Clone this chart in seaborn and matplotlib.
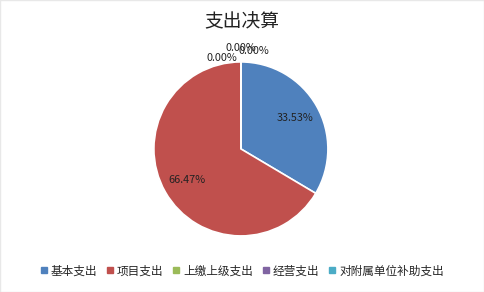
import matplotlib
matplotlib.use("Agg")
import matplotlib.pyplot as plt
import seaborn as sns
from matplotlib.lines import Line2D

sns.set_theme(style="white")
plt.rcParams['font.family'] = ['Noto Sans CJK SC', 'DejaVu Sans']

# data
categories = ["基本支出", "项目支出", "上缴上级支出", "经营支出", "对附属单位补助支出"]
values = [33.53, 66.47, 0.0, 0.0, 0.0]
colors = ["#4F81BD", "#C0504D", "#9BBB59", "#8064A2", "#4BACC6"]

fig = plt.figure(figsize=(4.84, 2.92), dpi=100)
ax = fig.add_axes([0.318, 0.192, 0.3595, 0.596])

wedges, texts, autotexts = ax.pie(
    values, colors=colors, startangle=90, counterclock=False,
    autopct="%.2f%%", pctdistance=0.72,
    wedgeprops=dict(edgecolor="white", linewidth=1.2),
    textprops=dict(fontsize=7.8, color="#222222"),
)
ax.set_aspect("equal")
ax.set_xlim(-1, 1)
ax.set_ylim(-1, 1)

# zero-value labels sit outside the top of the pie, as in the original
zero_pos = [(-0.22, 1.05), (0.0, 1.16), (0.15, 1.13)]
k = 0
for v, t in zip(values, autotexts):
    if v == 0:
        t.set_position(zero_pos[k])
        t.set_clip_on(False)
        k += 1

fig.text(0.5, 0.926, "支出决算", ha="center", va="center", fontsize=13.5, color="#222222")

handles = [Line2D([], [], marker="s", linestyle="", markersize=4.5,
                  markerfacecolor=c, markeredgecolor=c) for c in colors]
fig.legend(handles, categories, loc="center", bbox_to_anchor=(0.5, 0.072), ncol=5,
           frameon=False, fontsize=8.4, handlelength=0.6, handletextpad=0.3,
           columnspacing=0.8)

fig.patches.append(plt.Rectangle((0, 0), 1, 1, transform=fig.transFigure,
                                 fill=False, edgecolor="#E8E8E8", linewidth=1))

fig.savefig("out.png", dpi=100, facecolor="white")
